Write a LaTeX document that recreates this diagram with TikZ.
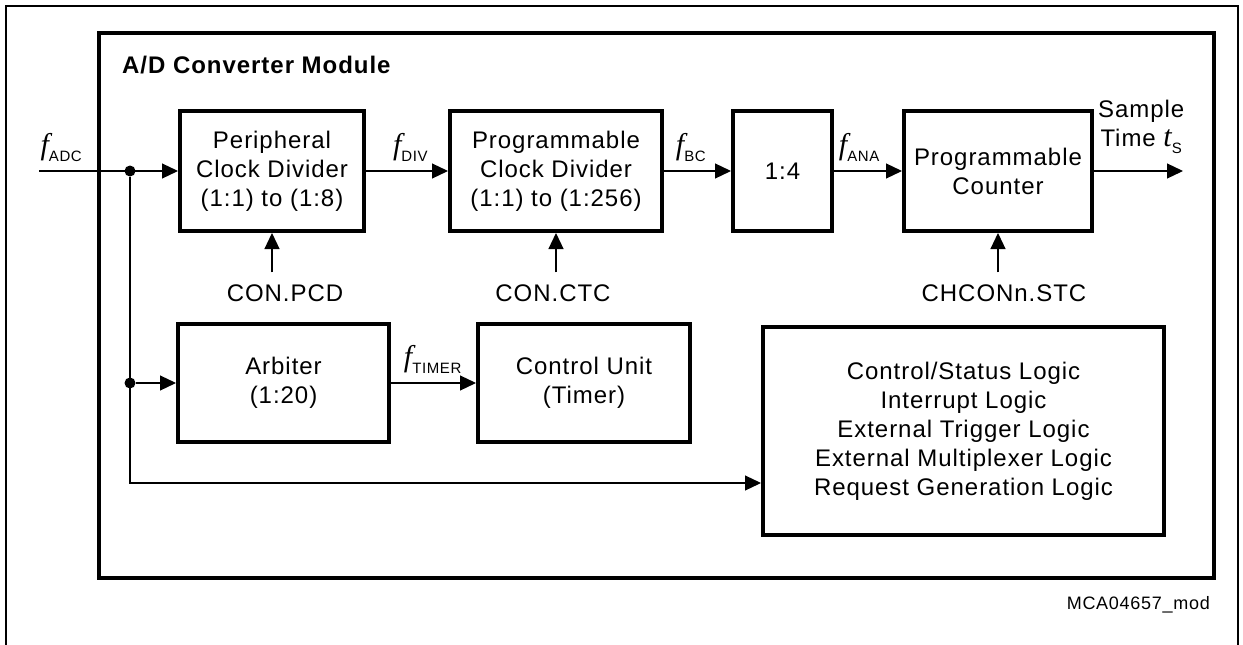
\documentclass[tikz,border=0pt]{standalone}
\usepackage{fontspec}
\setmainfont{Liberation Sans}[LetterSpace=4]
\newfontfamily\fserif{Liberation Serif}
\usetikzlibrary{arrows.meta,positioning}

\newcommand\blkfont{\fontsize{24}{29}\selectfont}
\newcommand\isig[2]{{\fserif\itshape\fontsize{30}{30}\selectfont #1}\raisebox{-7pt}{\fontsize{15}{15}\selectfont #2}}

\begin{document}
\begin{tikzpicture}[x=1pt,y=-1pt,node distance=220pt,
  block/.style={draw, line width=4pt, minimum height=120pt, align=center, font=\blkfont, inner sep=0pt},
  sig/.style={line width=1.2pt, -{Triangle[length=16pt,width=15pt]}},
  lbl/.style={inner sep=0pt, font=\blkfont},
  cin/.style={inner sep=12pt, font=\blkfont},
  dot/.style={circle, fill, inner sep=0pt, minimum size=11pt}]
  \useasboundingbox (0,0) rectangle (1243,645);

  % frames
  \draw[line width=2pt] (6,645) -- (6,6) -- (1238,6) -- (1238,645);
  \draw[line width=4pt] (99,32.5) rectangle (1214,578);
  \node[lbl, font=\blkfont\bfseries, anchor=west] (title) at (122,65) {A/D Converter Module};
  \node[lbl, font=\fontsize{18}{20}\selectfont, anchor=east] (code) at (1210,605) {MCA04657\_mod};

  % clock chain
  \node[block, minimum width=184pt] (pcd) at (272,171) {Peripheral\\Clock Divider\\(1:1) to (1:8)};
  \node[block, minimum width=212pt] (ctc) [right of = pcd, xshift = 64pt] {Programmable\\Clock Divider\\(1:1) to (1:256)};
  \node[block, minimum width=99pt] (div4) [right of = ctc, xshift = 6.5pt] {1:4};
  \node[block, minimum width=188pt] (cnt) [right of = div4, xshift = -4.5pt] {Programmable\\Counter};
  \node[block, minimum width=211pt, minimum height=118pt] (arb) [below of = pcd, xshift = 11.5pt, yshift = 8pt] {Arbiter\\(1:20)};
  \node[block, minimum width=212pt, minimum height=118pt] (ctl) [right of = arb, xshift = 80.5pt] {Control Unit\\(Timer)};
  \node[block, minimum width=401pt, minimum height=208pt] (logic) [right of = ctl, xshift = 159.5pt, yshift = -48pt]
    {Control/Status Logic\\Interrupt Logic\\External Trigger Logic\\External Multiplexer Logic\\Request Generation Logic};

  \node[cin, node distance=122pt] (pcdin) [below of = pcd, xshift = 13pt] {CON.PCD};
  \node[cin, node distance=122pt] (ctcin) [below of = ctc, xshift = -3pt] {CON.CTC};
  \node[cin, node distance=122pt] (stcin) [below of = cnt, xshift = 6pt] {CHCONn.STC};

  \coordinate (adc) at (39,171);
  \coordinate (ts) at (1183,171);
  \coordinate (bend) at (130,483);
  \node[dot] (j1) at (130,171) {};
  \node[dot] (j2) at (130,383) {};

  \path[sig]
    (adc) edge node[lbl, above=9pt, pos=0.16] {\isig{f}{ADC}} (pcd)
    (pcd) edge node[lbl, above=9pt, pos=0.54] {\isig{f}{DIV}} (ctc)
    (ctc) edge node[lbl, above=9pt, pos=0.40] {\isig{f}{BC}} (div4)
    (div4) edge node[lbl, above=9pt, pos=0.37] {\isig{f}{ANA}} (cnt)
    (cnt) edge node[lbl, align=center, above=17pt, pos=0.53] {Sample\\Time \isig{t}{S}} (ts)
    (j2) edge (arb)
    (arb) edge node[lbl, above=9pt, pos=0.49] {\isig{f}{TIMER}} (ctl)
    (pcdin.north -| pcd) edge (pcd)
    (ctcin.north -| ctc) edge (ctc)
    (stcin.north -| cnt) edge (cnt);
  \draw[sig] (j1) |- (logic.west |- bend);
\end{tikzpicture}
\end{document}
